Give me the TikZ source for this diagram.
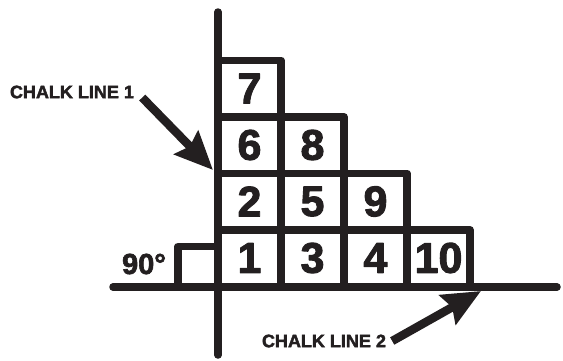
\documentclass[tikz,border=0pt]{standalone}
\usepackage{fontspec}
\setmainfont{Liberation Sans}[BoldFeatures={FakeBold=2.2}]
\usepackage{xcolor}
\usetikzlibrary{arrows.meta}
\definecolor{cInk}{HTML}{231F20}
\tikzset{
  tile/.style={draw=cInk,line width=7.5pt,line join=round,minimum width=63pt,
      minimum height=56.5pt,inner sep=0pt,text=cInk,
      font=\bfseries\fontsize{43}{43}\selectfont},
  chalk/.style={draw=cInk,line width=7.5pt,line cap=round},
  corner/.style={draw=cInk,line width=7.5pt,line join=round},
  callout/.style={font=\bfseries\fontsize{18}{18}\selectfont,text=cInk,inner sep=0pt},
  angletext/.style={font=\bfseries\fontsize{29}{29}\selectfont,text=cInk,inner sep=0pt},
  pointer/.style={draw=cInk,line width=8.5pt,
      -{Stealth[length=38pt,width=33pt,inset=5pt]}},
}
\newcommand{\tile}[4]{\node[tile] (#1) at (#2,#3) {#4};}

\begin{document}
\begin{tikzpicture}[x=1pt,y=-1pt]
  \useasboundingbox (0,0) rectangle (563,360);

  \coordinate (v1) at (218,12);   \coordinate (v2) at (218,355);
  \coordinate (h1) at (113,287);  \coordinate (h2) at (557,287);
  \draw[chalk] (v1) -- (v2);
  \draw[chalk] (h1) -- (h2);

  \tile{t1}{249.5}{258}{1}  \tile{t3}{312.5}{258}{3}
  \tile{t4}{375.5}{258}{4}  \tile{t10}{438.5}{258}{10}
  \tile{t2}{249.5}{201.5}{2}\tile{t5}{312.5}{201.5}{5}
  \tile{t9}{375.5}{201.5}{9}
  \tile{t6}{249.5}{145}{6}  \tile{t8}{312.5}{145}{8}
  \tile{t7}{249.5}{88.5}{7}

  \draw[corner] (178,287) -- (178,246.5) -- (t1.west |- 0,246.5);
  \node[angletext] (deg) at (144,264) {90°};

  \node[callout] (cl1) at (72,92) {CHALK LINE 1};
  \node[callout] (cl2) at (324,341) {CHALK LINE 2};
  \coordinate (a1) at (213,170);
  \coordinate (a2) at (481,291);
  \draw[pointer] ([xshift=8pt,yshift=1pt]cl1.south east) -- (a1);
  \draw[pointer] ([xshift=6pt]cl2.east) -- (a2);
\end{tikzpicture}
\end{document}
